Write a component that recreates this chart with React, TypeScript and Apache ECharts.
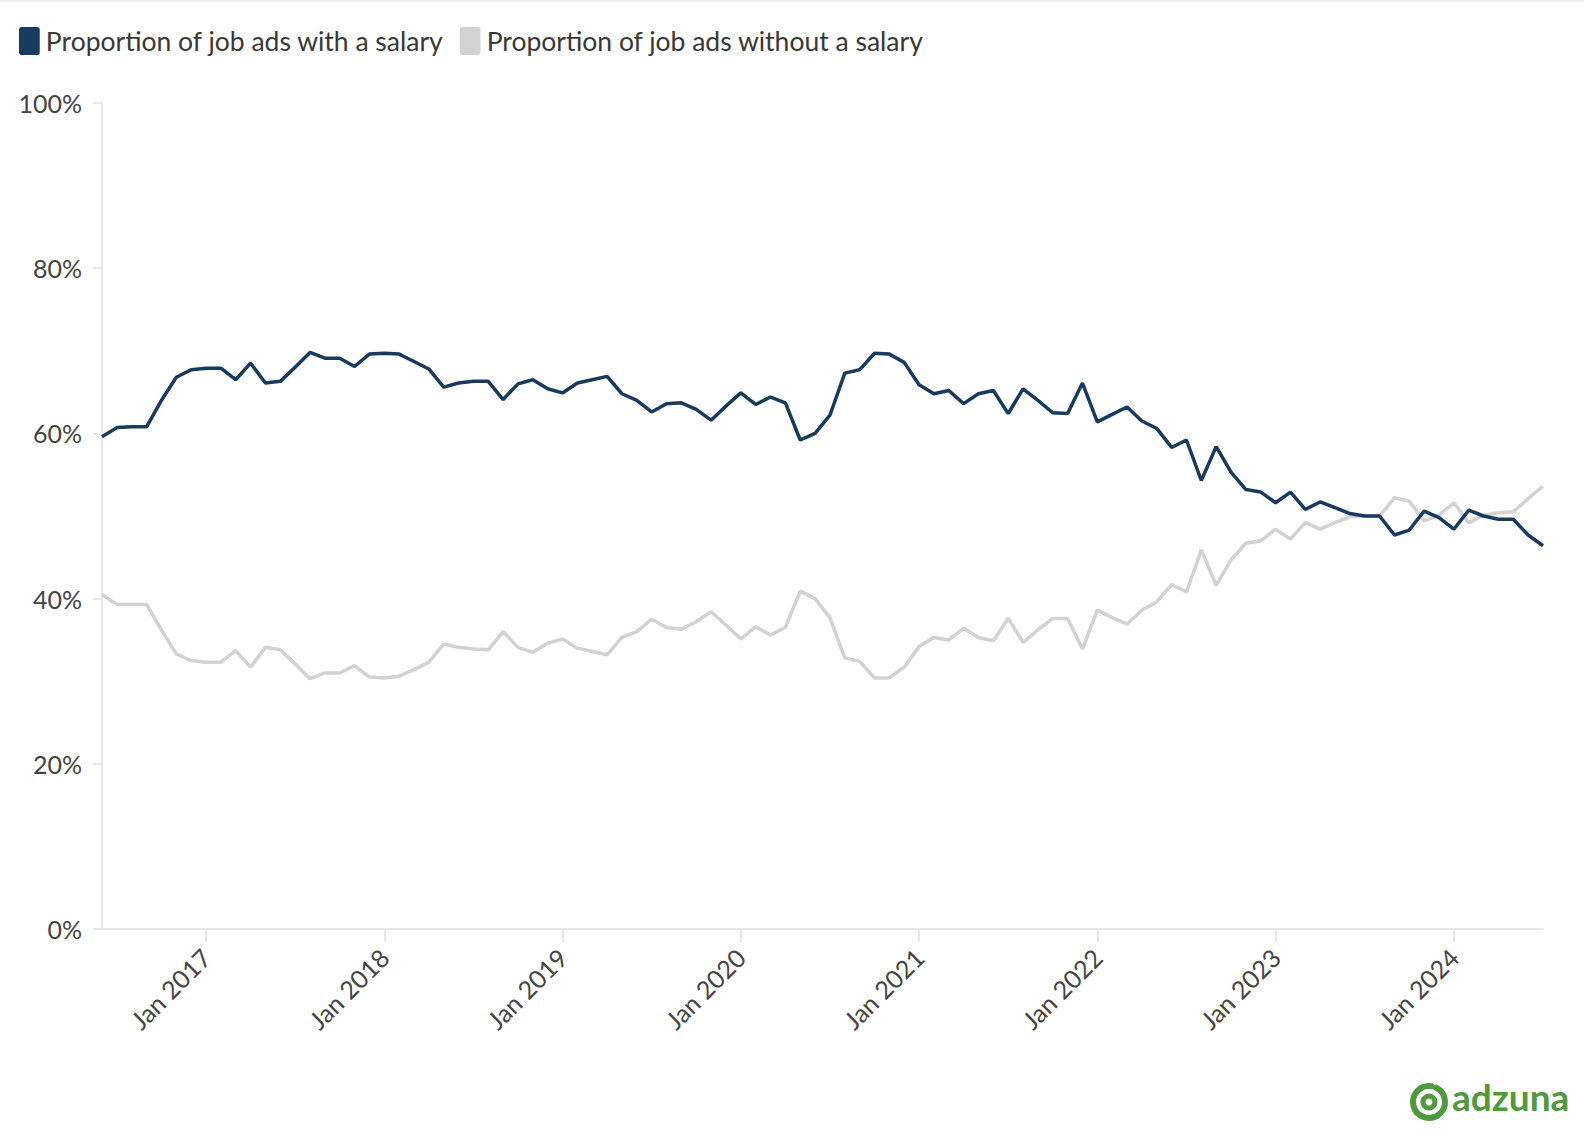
import { useEffect, useRef } from "react";
import * as echarts from "echarts";

// monthly series, Jun 2016 .. Jul 2024
const firstYear = 2016;
const firstMonth = 6;
const monthNames = ["Jan", "Feb", "Mar", "Apr", "May", "Jun", "Jul", "Aug", "Sep", "Oct", "Nov", "Dec"];

const withSalary = [
  59.6, 60.7, 60.8, 60.8, 64.0, 66.8, 67.7, 67.9, 67.9, 66.5,
  68.5, 66.1, 66.3, 68.0, 69.8, 69.1, 69.1, 68.1, 69.6, 69.7,
  69.6, 68.7, 67.8, 65.6, 66.1, 66.3, 66.3, 64.1, 66.0, 66.5,
  65.4, 64.9, 66.1, 66.5, 66.9, 64.8, 64.0, 62.6, 63.6, 63.7,
  62.9, 61.6, 63.3, 64.9, 63.5, 64.4, 63.7, 59.2, 60.0, 62.2,
  67.3, 67.7, 69.7, 69.6, 68.6, 65.9, 64.8, 65.2, 63.6, 64.8,
  65.2, 62.4, 65.4, 64.0, 62.5, 62.4, 66.1, 61.4, 62.3, 63.2,
  61.5, 60.6, 58.3, 59.2, 54.3, 58.4, 55.3, 53.2, 52.9, 51.6,
  52.9, 50.8, 51.7, 51.0, 50.3, 50.0, 50.0, 47.7, 48.3, 50.6,
  49.8, 48.4, 50.7, 50.0, 49.6, 49.6, 47.7, 46.4,
];

const withoutSalary = [
  40.5, 39.3, 39.3, 39.3, 36.2, 33.3, 32.5, 32.3, 32.3, 33.7,
  31.7, 34.1, 33.8, 32.1, 30.3, 31.0, 31.0, 31.9, 30.5, 30.4,
  30.6, 31.4, 32.3, 34.5, 34.1, 33.9, 33.8, 36.0, 34.1, 33.5,
  34.6, 35.1, 34.0, 33.6, 33.2, 35.3, 36.0, 37.5, 36.5, 36.3,
  37.2, 38.4, 36.8, 35.1, 36.6, 35.6, 36.5, 40.9, 40.0, 37.7,
  32.8, 32.4, 30.4, 30.4, 31.7, 34.2, 35.3, 35.0, 36.4, 35.3,
  34.9, 37.6, 34.7, 36.2, 37.6, 37.6, 33.9, 38.6, 37.7, 36.9,
  38.6, 39.6, 41.7, 40.8, 45.9, 41.6, 44.7, 46.7, 47.0, 48.4,
  47.2, 49.2, 48.4, 49.2, 49.9, 50.0, 50.0, 52.2, 51.8, 49.4,
  50.1, 51.6, 49.2, 50.1, 50.4, 50.5, 52.1, 53.6,
];

const seriesNames = ["Proportion of job ads with a salary", "Proportion of job ads without a salary"];
const seriesColors = ["#173a5e", "#d2d2d2"];

const months: string[] = withSalary.map((_, i) => {
  const m = firstMonth - 1 + i;
  return monthNames[m % 12] + " " + (firstYear + Math.floor(m / 12));
});

const isJan = (index: number) => months[index].startsWith("Jan");

const FONT = "Lato, 'Noto Sans', sans-serif";
const legendIcon = "path://M3,0 H17 Q20,0 20,3 V24 Q20,27 17,27 H3 Q0,27 0,24 V3 Q0,0 3,0 Z";

export default function App() {
  const divRef = useRef<HTMLDivElement>(null);

  useEffect(() => {
    if (!divRef.current) return;
    const chart = echarts.init(divRef.current, null, { renderer: "svg" });

    chart.setOption({
      animation: false,
      backgroundColor: "#ffffff",
      textStyle: { fontFamily: FONT },
      legend: {
        left: 14,
        top: 22,
        itemWidth: 21,
        itemHeight: 28,
        itemGap: 16,
        data: [
          { name: seriesNames[0], icon: legendIcon },
          { name: seriesNames[1], icon: legendIcon },
        ],
        textStyle: { fontSize: 26.5, color: "#383838", fontFamily: FONT, padding: [0, 0, 0, 1] },
      },
      grid: { left: 102, right: 41, top: 103, bottom: 211 },
      xAxis: {
        type: "category",
        boundaryGap: false,
        data: months,
        axisLine: { lineStyle: { color: "#e8e8e8", width: 2 } },
        axisTick: {
          alignWithLabel: true,
          length: 13,
          interval: (index: number) => isJan(index),
          lineStyle: { color: "#e8e8e8", width: 2 },
        },
        axisLabel: {
          interval: (index: number) => isJan(index),
          rotate: 45,
          margin: 24,
          fontSize: 25,
          color: "#444444",
          fontFamily: FONT,
        },
        splitLine: { show: false },
      },
      yAxis: {
        type: "value",
        min: 0,
        max: 100,
        interval: 20,
        axisLine: { show: true, lineStyle: { color: "#e8e8e8", width: 2 } },
        axisTick: { show: true, length: 9, lineStyle: { color: "#e8e8e8", width: 2 } },
        axisLabel: {
          formatter: "{value}%",
          margin: 20,
          fontSize: 25,
          color: "#444444",
          fontFamily: FONT,
        },
        splitLine: { show: false },
      },
      series: [
        {
          name: seriesNames[1],
          type: "line",
          data: withoutSalary,
          showSymbol: false,
          lineStyle: { color: seriesColors[1], width: 3.5 },
          itemStyle: { color: seriesColors[1] },
        },
        {
          name: seriesNames[0],
          type: "line",
          data: withSalary,
          showSymbol: false,
          lineStyle: { color: seriesColors[0], width: 3.5 },
          itemStyle: { color: seriesColors[0] },
        },
      ],
      graphic: [
        {
          type: "rect",
          left: 0,
          top: 0,
          shape: { width: 1584, height: 2 },
          style: { fill: "#f0f0f0" },
        },
        {
          type: "arc",
          x: 1429,
          y: 1102,
          shape: { cx: 0, cy: 0, r: 16, startAngle: -Math.PI * 0.35, endAngle: Math.PI * 1.55 },
          style: { stroke: "#4f9a3d", lineWidth: 6, fill: "none", lineCap: "round" },
        },
        {
          type: "circle",
          x: 1429,
          y: 1102,
          shape: { cx: 0, cy: 0, r: 6 },
          style: { stroke: "#4f9a3d", lineWidth: 5, fill: "none" },
        },
        {
          type: "text",
          left: 1452,
          top: 1078,
          style: {
            text: "adzuna",
            fill: "#4f9a3d",
            font: "bold 37px Lato, 'Noto Sans', sans-serif",
          },
        },
      ],
    });

    return () => {
      chart.dispose();
    };
  }, []);

  return (
    <div
      ref={divRef}
      style={{ position: "absolute", left: 0, top: 0, width: "1584px", height: "1140px" }}
    />
  );
}
